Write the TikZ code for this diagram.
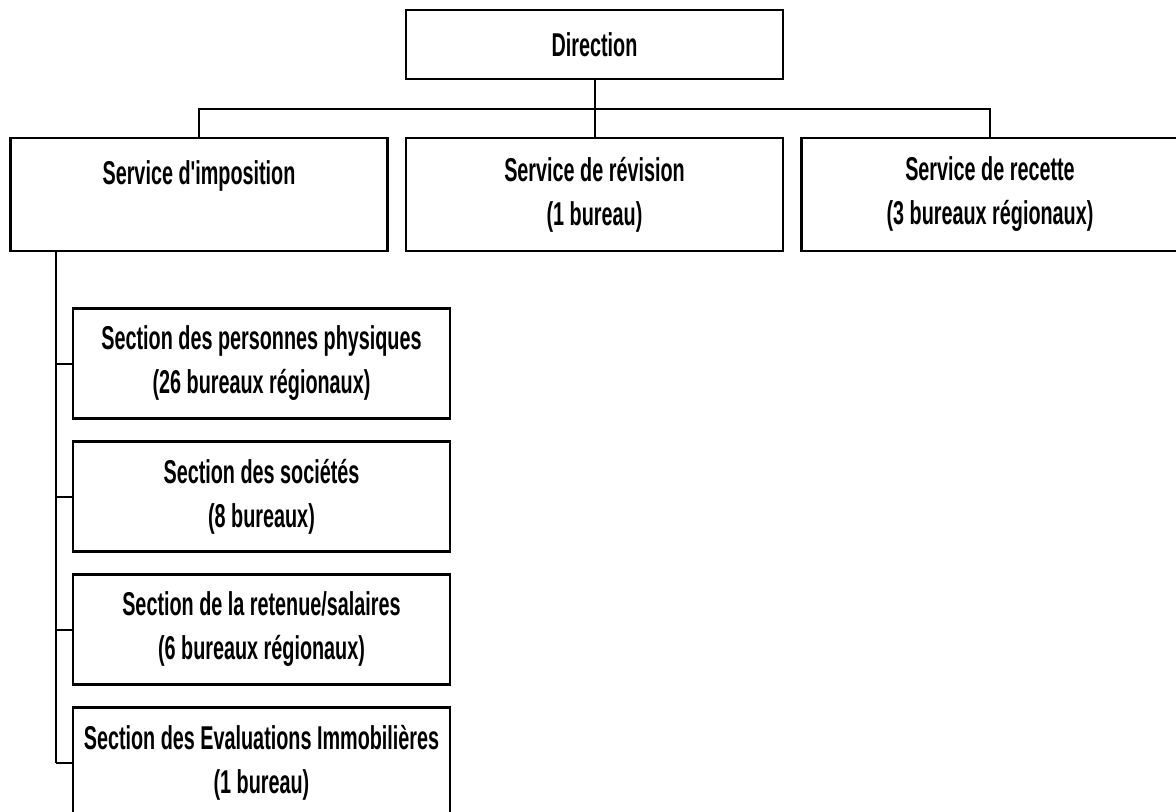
\documentclass[tikz,border=0pt]{standalone}
\usepackage{fontspec}
\newfontfamily\orgfont[FakeStretch=0.6]{Liberation Sans}
\begin{document}
\begin{tikzpicture}[x=0.5pt,y=-0.5pt,line width=1pt,
		box/.style={draw,line width=1.3pt,minimum width=188.5pt,inner sep=0pt,align=center,
			font=\orgfont\bfseries\fontsize{16.5}{22}\selectfont}]
	\useasboundingbox (0,0) rectangle (1176,811);
	% top level
	\node[box,minimum height=34.5pt] (dir) at (594.5,44.5) {Direction};
	\node[box,minimum height=56.5pt] (imp) at (199,194.5) {Service d'imposition\\\mbox{}};
	\node[box,minimum height=56.5pt] (rev) at (594.5,194.5) {Service de révision\\(1 bureau)};
	\node[box,minimum height=56.5pt] (rec) at (990,194.5) {Service de recette\\(3 bureaux régionaux)};
	\coordinate (bus) at (594.5,108.5);
	\draw (dir) -- (rev);
	\draw (imp.north) |- (bus) -| (rec.north);
	% sections
	\coordinate (top) at (56,250);
	\foreach \t [count=\i] in {{Section des personnes physiques\\(26 bureaux régionaux)},
		{Section des sociétés\\(8 bureaux)},
		{Section de la retenue/salaires\\(6 bureaux régionaux)},
		{Section des Evaluations Immobilières\\(1 bureau)}}{
		\node[box,minimum height=55pt] (sec\i) at (261.5,{363.5+133*(\i-1)}) {\t};
		\draw (sec\i.west) -- (sec\i.west -| top);
	}
	\draw (top) -- (top |- sec4.west);
\end{tikzpicture}
\end{document}
